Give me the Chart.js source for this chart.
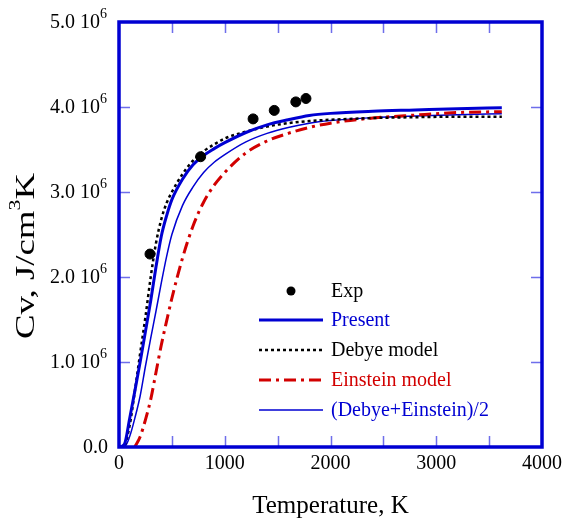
<!DOCTYPE html>
<html>
<head>
<meta charset="utf-8">
<script src="https://cdn.jsdelivr.net/npm/chart.js@4/dist/chart.umd.min.js"></script>
<style>
  html, body { margin: 0; padding: 0; background: #fff; }
  #wrap { width: 567px; height: 522px; }
</style>
</head>
<body>
<div id="wrap"><canvas id="cv"></canvas></div>
<script>
// temperatures (K) used for the model curves
const temps = [0, 50, 100, 150, 200, 250, 300, 350, 400, 450, 500, 600, 700, 800, 900, 1000, 1200, 1400, 1600, 1800, 2000, 2400, 2800, 3200, 3620];

// heat capacity, in units of 1e6 J/cm3K
const present  = [0, 0.03, 0.33, 0.66, 1.0, 1.36, 1.72, 2.12, 2.48, 2.72, 2.91, 3.15, 3.32, 3.43, 3.51, 3.58, 3.7, 3.79, 3.85, 3.9, 3.925, 3.95, 3.965, 3.98, 3.99];
const debye    = [0, 0.02, 0.25, 0.66, 1.1, 1.53, 2.0, 2.4, 2.68, 2.87, 3.0, 3.21, 3.37, 3.48, 3.56, 3.63, 3.71, 3.77, 3.81, 3.835, 3.85, 3.87, 3.88, 3.886, 3.886];
const einstein = [null, null, null, 0, 0.12, 0.32, 0.56, 0.88, 1.2, 1.48, 1.75, 2.22, 2.6, 2.88, 3.08, 3.23, 3.46, 3.6, 3.69, 3.76, 3.81, 3.87, 3.905, 3.935, 3.945];
const average  = [0, 0, 0.12, 0.34, 0.6, 0.95, 1.28, 1.6, 1.93, 2.24, 2.5, 2.84, 3.06, 3.23, 3.35, 3.44, 3.59, 3.69, 3.76, 3.81, 3.84, 3.875, 3.895, 3.91, 3.92];

// measured points
const expT  = [293, 772, 1268, 1468, 1672, 1768];
const expCv = [2.27, 3.415, 3.86, 3.96, 4.06, 4.10];

// axis ticks
const xTicks = [0, 1000, 2000, 3000, 4000];
const xMinor = [500, 1000, 1500, 2000, 2500, 3000, 3500];
const yTicks = [0, 1, 2, 3, 4, 5];
const yTickLabels = ['0.0', '1.0 10', '2.0 10', '3.0 10', '4.0 10', '5.0 10'];
const yTickExp = ['', '6', '6', '6', '6', '6'];

const legendNames = ['Exp', 'Present', 'Debye model', 'Einstein model', '(Debye+Einstein)/2'];

const BLUE = 'rgb(0,0,210)';
const RED = 'rgb(210,0,0)';
const SERIF = '"Liberation Serif", "Times New Roman", serif';

const toXY = (xs, ys) => xs.map((x, i) => ({ x: x, y: ys[i] === null ? null : ys[i] * 1e6 }));

const datasets = [
  { label: legendNames[0], data: toXY(expT, expCv), showLine: false,
    pointRadius: 5, pointBackgroundColor: '#000', pointBorderColor: '#000', textColor: '#000' },
  { label: legendNames[1], data: toXY(temps, present), borderColor: BLUE, borderWidth: 3, textColor: BLUE },
  { label: legendNames[2], data: toXY(temps, debye), borderColor: '#000', borderWidth: 2.5, borderDash: [3, 3], textColor: '#000' },
  { label: legendNames[3], data: toXY(temps, einstein), borderColor: RED, borderWidth: 3, borderDash: [12, 5, 3, 5], textColor: RED },
  { label: legendNames[4], data: toXY(temps, average), borderColor: BLUE, borderWidth: 1.5, textColor: BLUE }
];
datasets.forEach((d, i) => {
  if (i > 0) {
    d.showLine = true;
    d.pointRadius = 0;
    d.cubicInterpolationMode = 'monotone';
    d.spanGaps = false;
  }
});

// frame, inward ticks, labels, titles and legend
const decorations = {
  id: 'decorations',
  afterDraw(chart) {
    const { ctx, chartArea: { left, right, top, bottom }, scales: { x, y } } = chart;
    ctx.save();

    // tick marks on all four sides
    ctx.strokeStyle = 'rgb(110,110,235)';
    ctx.lineWidth = 1.5;
    ctx.beginPath();
    xMinor.forEach(v => {
      const px = Math.round(x.getPixelForValue(v)) + 0.5;
      ctx.moveTo(px, bottom); ctx.lineTo(px, bottom - 11);
      ctx.moveTo(px, top); ctx.lineTo(px, top + 11);
    });
    yTicks.slice(1, -1).forEach(v => {
      const py = Math.round(y.getPixelForValue(v * 1e6)) + 0.5;
      ctx.moveTo(left, py); ctx.lineTo(left + 11, py);
      ctx.moveTo(right, py); ctx.lineTo(right - 11, py);
    });
    ctx.stroke();

    // frame
    ctx.strokeStyle = BLUE;
    ctx.lineWidth = 3.5;
    ctx.strokeRect(left, top, right - left, bottom - top);

    // x tick labels
    ctx.fillStyle = '#000';
    ctx.font = '20px ' + SERIF;
    ctx.textAlign = 'center';
    ctx.textBaseline = 'middle';
    xTicks.forEach(v => ctx.fillText(String(v), x.getPixelForValue(v), bottom + 17));

    // y tick labels with exponent
    yTicks.forEach((v, i) => {
      const py = y.getPixelForValue(v * 1e6) + 1;
      ctx.font = '20px ' + SERIF;
      ctx.textAlign = 'right';
      if (yTickExp[i]) {
        ctx.fillText(yTickLabels[i], left - 19, py);
        ctx.font = '14px ' + SERIF;
        ctx.textAlign = 'left';
        ctx.fillText(yTickExp[i], left - 19, py - 9);
      } else {
        ctx.fillText(yTickLabels[i], left - 11, py);
      }
    });

    // x axis title
    ctx.font = '25px ' + SERIF;
    ctx.textAlign = 'center';
    ctx.fillText('Temperature, K', (left + right) / 2, bottom + 59);

    // y axis title, rotated and stretched along its length
    ctx.save();
    ctx.translate(27, 256);
    ctx.rotate(-Math.PI / 2);
    ctx.textAlign = 'left';
    const big = '27px ' + SERIF, small = '16px ' + SERIF;
    ctx.font = big;
    const w1 = ctx.measureText('Cv, J/cm').width;
    const w3 = ctx.measureText('K').width;
    ctx.font = small;
    const w2 = ctx.measureText('3').width;
    const total = w1 + w2 + w3;
    ctx.scale(166 / total, 1);
    let tx = -total / 2;
    ctx.font = big;
    ctx.fillText('Cv, J/cm', tx, 0);
    tx += w1;
    ctx.font = small;
    ctx.fillText('3', tx, -11);
    tx += w2;
    ctx.font = big;
    ctx.fillText('K', tx, 0);
    ctx.restore();

    // legend
    const lx0 = 259, lx1 = 323, tx0 = 331, rowY = [291, 320, 350, 380, 410];
    chart.data.datasets.forEach((d, i) => {
      const ry = rowY[i];
      if (i === 0) {
        ctx.fillStyle = '#000';
        ctx.beginPath();
        ctx.arc(291, ry, 4.5, 0, Math.PI * 2);
        ctx.fill();
      } else {
        ctx.strokeStyle = d.borderColor;
        ctx.lineWidth = d.borderWidth;
        ctx.setLineDash(d.borderDash || []);
        ctx.beginPath();
        ctx.moveTo(lx0, ry);
        ctx.lineTo(lx1, ry);
        ctx.stroke();
        ctx.setLineDash([]);
      }
      ctx.fillStyle = d.textColor;
      ctx.font = '20px ' + SERIF;
      ctx.textAlign = 'left';
      ctx.textBaseline = 'middle';
      ctx.fillText(d.label, tx0, ry + 1);
    });

    ctx.restore();
  }
};

new Chart(document.getElementById('cv'), {
  type: 'scatter',
  data: { datasets: datasets },
  options: {
    responsive: true,
    maintainAspectRatio: false,
    animation: false,
    layout: { padding: { left: 119, right: 25, top: 22, bottom: 75 } },
    plugins: { legend: { display: false }, tooltip: { enabled: false } },
    scales: {
      x: { type: 'linear', min: 0, max: 4000, display: false },
      y: { type: 'linear', min: 0, max: 5e6, display: false }
    }
  },
  plugins: [decorations]
});
</script>
</body>
</html>
